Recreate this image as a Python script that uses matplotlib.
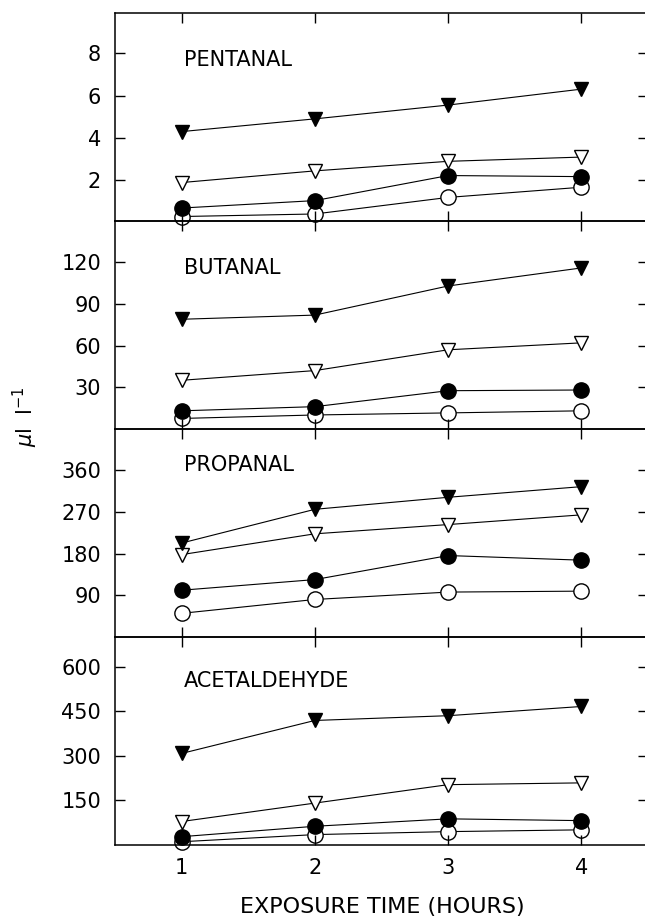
import numpy as np
import matplotlib
matplotlib.use("Agg")
import matplotlib.pyplot as plt

plt.rcParams['font.family'] = ['DejaVu Sans']

hours = [1, 2, 3, 4]

# pentanal
pent_filled_tri = [4.3, 4.9, 5.55, 6.3]
pent_open_tri = [1.9, 2.45, 2.9, 3.1]
pent_filled_circ = [0.7, 1.05, 2.23, 2.18]
pent_open_circ = [0.3, 0.42, 1.2, 1.68]

# butanal
but_filled_tri = [79, 82, 103, 116]
but_open_tri = [35, 42, 57, 62]
but_filled_circ = [13, 16, 27.5, 28]
but_open_circ = [7.5, 10, 11.5, 13]

# propanal
prop_filled_tri = [203, 276, 302, 325]
prop_open_tri = [178, 223, 243, 264]
prop_filled_circ = [101, 124, 176, 166]
prop_open_circ = [51, 81, 97, 99]

# acetaldehyde
acet_filled_tri = [308, 419, 435, 466]
acet_open_tri = [79, 141, 203, 209]
acet_filled_circ = [28, 63, 88, 82]
acet_open_circ = [11, 35, 45, 51]

panels = [
    ("PENTANAL", pent_open_circ, pent_open_tri, pent_filled_circ, pent_filled_tri,
     (0.1, 9.9), [2, 4, 6, 8], 0.773),
    ("BUTANAL", but_open_circ, but_open_tri, but_filled_circ, but_filled_tri,
     (0, 150), [30, 60, 90, 120], 0.772),
    ("PROPANAL", prop_open_circ, prop_open_tri, prop_filled_circ, prop_filled_tri,
     (0, 450), [90, 180, 270, 360], 0.827),
    ("ACETALDEHYDE", acet_open_circ, acet_open_tri, acet_filled_circ, acet_filled_tri,
     (0, 700), [150, 300, 450, 600], 0.79),
]

fig = plt.figure(figsize=(6.45, 9.19), dpi=100)

W, H = 645.0, 919.0
left, right = 115 / W, 648 / W
top_px, bot_px = 12.7, 845.0
ph = (bot_px - top_px) / 4

styles = [
    dict(marker="o", mfc="white", ms=11),
    dict(marker="v", mfc="white", ms=10.5),
    dict(marker="o", mfc="black", ms=11),
    dict(marker="v", mfc="black", ms=10.5),
]

for i, (name, oc, ot, fc, ft, ylim, yt, ly) in enumerate(panels):
    y0 = 1 - (top_px + ph * (i + 1)) / H
    ax = fig.add_axes([left, y0, right - left, ph / H])
    ax.patch.set_visible(False)
    for series, st in zip([oc, ot, fc, ft], styles):
        ax.plot(hours, series, color="black", lw=0.8, mec="black", mew=1.0,
                clip_on=False, **st)
    ax.set_xlim(0.5, 4.5)
    ax.set_ylim(*ylim)
    ax.set_yticks(yt)
    ax.set_xticks(hours)
    ax.set_axisbelow(False)
    ax.tick_params(direction="in", length=7, width=1.0, labelsize=15,
                   top=True, right=True, pad=10)
    ax.tick_params(axis="x", length=7.5, pad=9)
    for sp in ax.spines.values():
        sp.set_linewidth(1.1)
    if i < 3:
        ax.tick_params(labelbottom=False)
    ax.text(0.13, ly, name, transform=ax.transAxes, fontsize=15,
            ha="left", va="center")

fig.text(382 / W, 1 - 907 / H, "EXPOSURE TIME (HOURS)", fontsize=16,
         ha="center", va="center")
fig.text(25 / W, 1 - 417 / H, r"$\mu$l  l$^{-1}$", fontsize=15,
         rotation=90, ha="center", va="center")

fig.savefig("out.png", dpi=100)
